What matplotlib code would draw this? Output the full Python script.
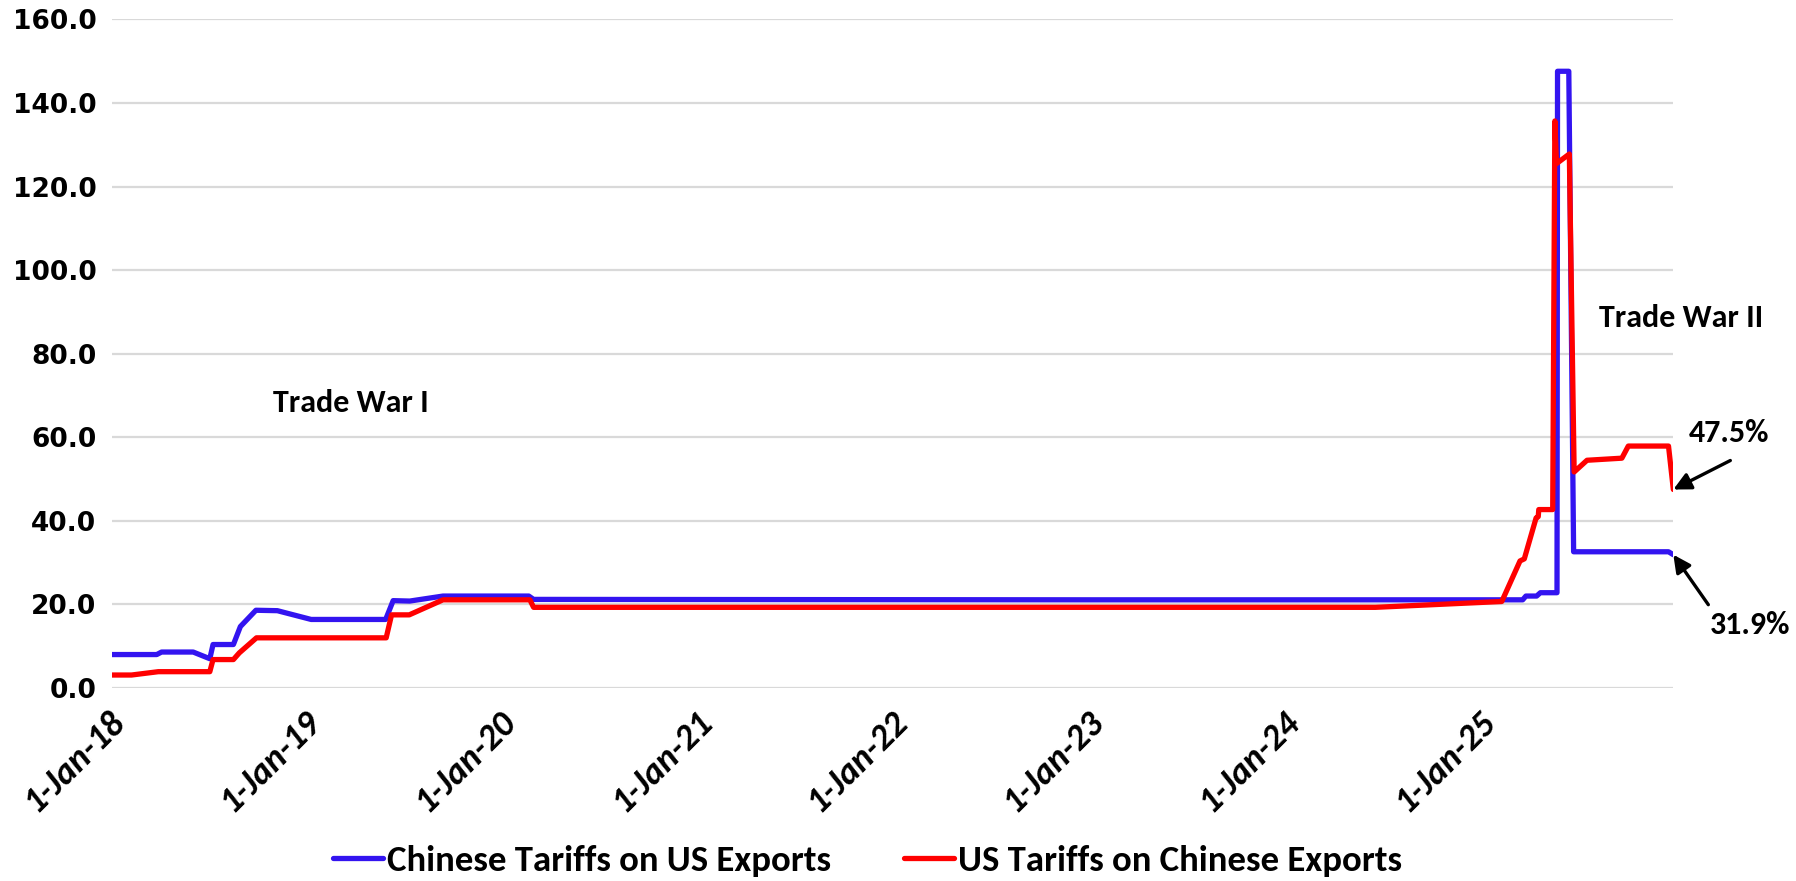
"""US-China tariff rates since 2018, Trade War I and Trade War II.

Two step-like series: average Chinese tariffs on US exports and average US
tariffs on Chinese exports, in percent. Saves the figure to out.png.
"""

import matplotlib

matplotlib.use("Agg")
import matplotlib.dates as mdates
import matplotlib.pyplot as plt
import matplotlib.transforms as mtransforms
import pandas as pd
from matplotlib import font_manager
from matplotlib.font_manager import FontProperties

# Chinese tariffs on US exports (%)
china_dates = [
    "2018-01-01", "2018-03-26", "2018-04-04", "2018-06-02", "2018-07-03",
    "2018-07-09", "2018-08-16", "2018-08-29", "2018-09-27", "2018-11-06",
    "2019-01-08", "2019-05-27", "2019-06-10", "2019-07-11", "2019-09-11",
    "2020-02-18", "2020-02-27", "2023-01-01", "2025-03-17", "2025-03-23",
    "2025-04-12", "2025-04-19", "2025-05-20", "2025-05-21", "2025-06-11",
    "2025-06-20", "2025-12-14", "2025-12-23",
]
china_rates = [
    8.0, 8.0, 8.6, 8.6, 7.0,
    10.4, 10.4, 14.7, 18.6, 18.5,
    16.4, 16.4, 20.9, 20.8, 22.0,
    22.0, 21.2, 21.1, 21.1, 22.0,
    22.0, 22.8, 22.8, 147.6, 147.6,
    32.6, 32.6, 31.9,
]

# US tariffs on Chinese exports (%)
us_dates = [
    "2018-01-01", "2018-02-07", "2018-03-29", "2018-07-03", "2018-07-09",
    "2018-08-16", "2018-08-27", "2018-09-28", "2019-05-28", "2019-06-07",
    "2019-07-10", "2019-09-11", "2020-02-20", "2020-02-27", "2024-06-15",
    "2025-02-06", "2025-03-12", "2025-03-20", "2025-04-11", "2025-04-15",
    "2025-04-16", "2025-05-12", "2025-05-16", "2025-05-19", "2025-06-12",
    "2025-06-21", "2025-07-15", "2025-09-18", "2025-09-30", "2025-12-14",
    "2025-12-23",
]
us_rates = [
    3.1, 3.1, 3.9, 3.9, 6.8,
    6.8, 8.4, 12.0, 12.0, 17.5,
    17.5, 21.1, 21.1, 19.3, 19.3,
    20.7, 30.4, 30.9, 40.7, 41.0,
    42.7, 42.7, 135.7, 125.5, 127.8,
    51.7, 54.5, 55.0, 57.9, 57.9,
    47.5,
]

series_labels = ["Chinese Tariffs on US Exports", "US Tariffs on Chinese Exports"]
year_ticks = [f"{y}-01-01" for y in range(2018, 2026)]
y_ticks = list(range(0, 161, 20))

BLUE = "#3314F0"
RED = "#FF0000"
GRID = "#D9D9D9"


def pick_bold_family(candidates):
    """First candidate family that really has a bold face installed."""

    for family in candidates:
        try:
            path = font_manager.findfont(
                FontProperties(family=family, weight="bold"), fallback_to_default=False
            )
        except ValueError:
            continue
        if "bold" in path.lower() or "black" in path.lower():
            return family
    return "DejaVu Sans"


def main():
    label_font = [pick_bold_family(["Carlito", "Calibri", "Lato", "Roboto",
                                    "Open Sans", "Noto Sans"]), "DejaVu Sans"]

    fig = plt.figure(figsize=(17.96, 8.81), dpi=100)
    ax = fig.add_axes([0.0622, 0.2191, 0.8695, 0.7588])

    china_x = pd.to_datetime(china_dates)
    us_x = pd.to_datetime(us_dates)
    line_kw = dict(linewidth=3.8, solid_capstyle="round", solid_joinstyle="round")
    ax.plot(china_x, china_rates, color=BLUE, label=series_labels[0], **line_kw)
    ax.plot(us_x, us_rates, color=RED, label=series_labels[1], **line_kw)

    ax.set_xlim(china_x[0], china_x[-1])
    ax.set_ylim(0, 160)
    ax.set_yticks(y_ticks)
    ax.set_yticklabels([f"{v:.1f}" for v in y_ticks], fontsize=19,
                       fontweight="bold", family="DejaVu Sans")
    ax.yaxis.grid(True, color=GRID, linewidth=1.6)
    ax.set_axisbelow(True)
    for spine in ax.spines.values():
        spine.set_visible(False)
    ax.tick_params(axis="both", length=0)
    ax.tick_params(axis="y", pad=11)
    ax.tick_params(axis="x", pad=12)

    ax.set_xticks(pd.to_datetime(year_ticks))
    ax.xaxis.set_major_formatter(mdates.DateFormatter("1-%b-%y"))
    shift = mtransforms.ScaledTranslation(-4 / 100, 0, fig.dpi_scale_trans)
    for lbl in ax.get_xticklabels():
        lbl.set_rotation(45)
        lbl.set_ha("right")
        lbl.set_va("top")
        lbl.set_rotation_mode("anchor")
        lbl.set_fontsize(26)
        lbl.set_fontweight("bold")
        lbl.set_fontstyle("italic")
        lbl.set_family(label_font)
        lbl.set_transform(lbl.get_transform() + shift)

    text_kw = dict(fontsize=23, fontweight="bold", family=label_font,
                   ha="center", va="center")
    ax.text(0.153, 0.426, "Trade War I", transform=ax.transAxes, **text_kw)
    ax.text(1.005, 0.553, "Trade War II", transform=ax.transAxes,
            clip_on=False, **text_kw)

    # arrows pointing at the latest value of each series
    arrow_kw = dict(arrowstyle="-|>", color="black", lw=2.4,
                    mutation_scale=26, shrinkA=0, shrinkB=0)
    red_end = (us_x[-1], us_rates[-1])
    blue_end = (china_x[-1], china_rates[-1])
    ax.annotate("", xy=red_end, xytext=(57, 29), textcoords="offset pixels",
                arrowprops=arrow_kw, annotation_clip=False)
    ax.annotate("", xy=blue_end, xytext=(35, -50), textcoords="offset pixels",
                arrowprops=arrow_kw, annotation_clip=False)
    ax.annotate(f"{us_rates[-1]:.1f}%", xy=red_end, xytext=(56, 57),
                textcoords="offset pixels", annotation_clip=False, **text_kw)
    ax.annotate(f"{china_rates[-1]:.1f}%", xy=blue_end, xytext=(77, -70),
                textcoords="offset pixels", annotation_clip=False, **text_kw)

    leg = fig.legend(loc="center", bbox_to_anchor=(0.483, 0.0227), ncol=2,
                     frameon=False, handlelength=1.36, handletextpad=0.1,
                     columnspacing=2.0,
                     prop=dict(family=label_font, weight="bold", size=26.5))
    for handle in leg.get_lines():
        handle.set_linewidth(3.8)

    fig.savefig("out.png", dpi=100)
    plt.close(fig)


if __name__ == "__main__":
    main()
